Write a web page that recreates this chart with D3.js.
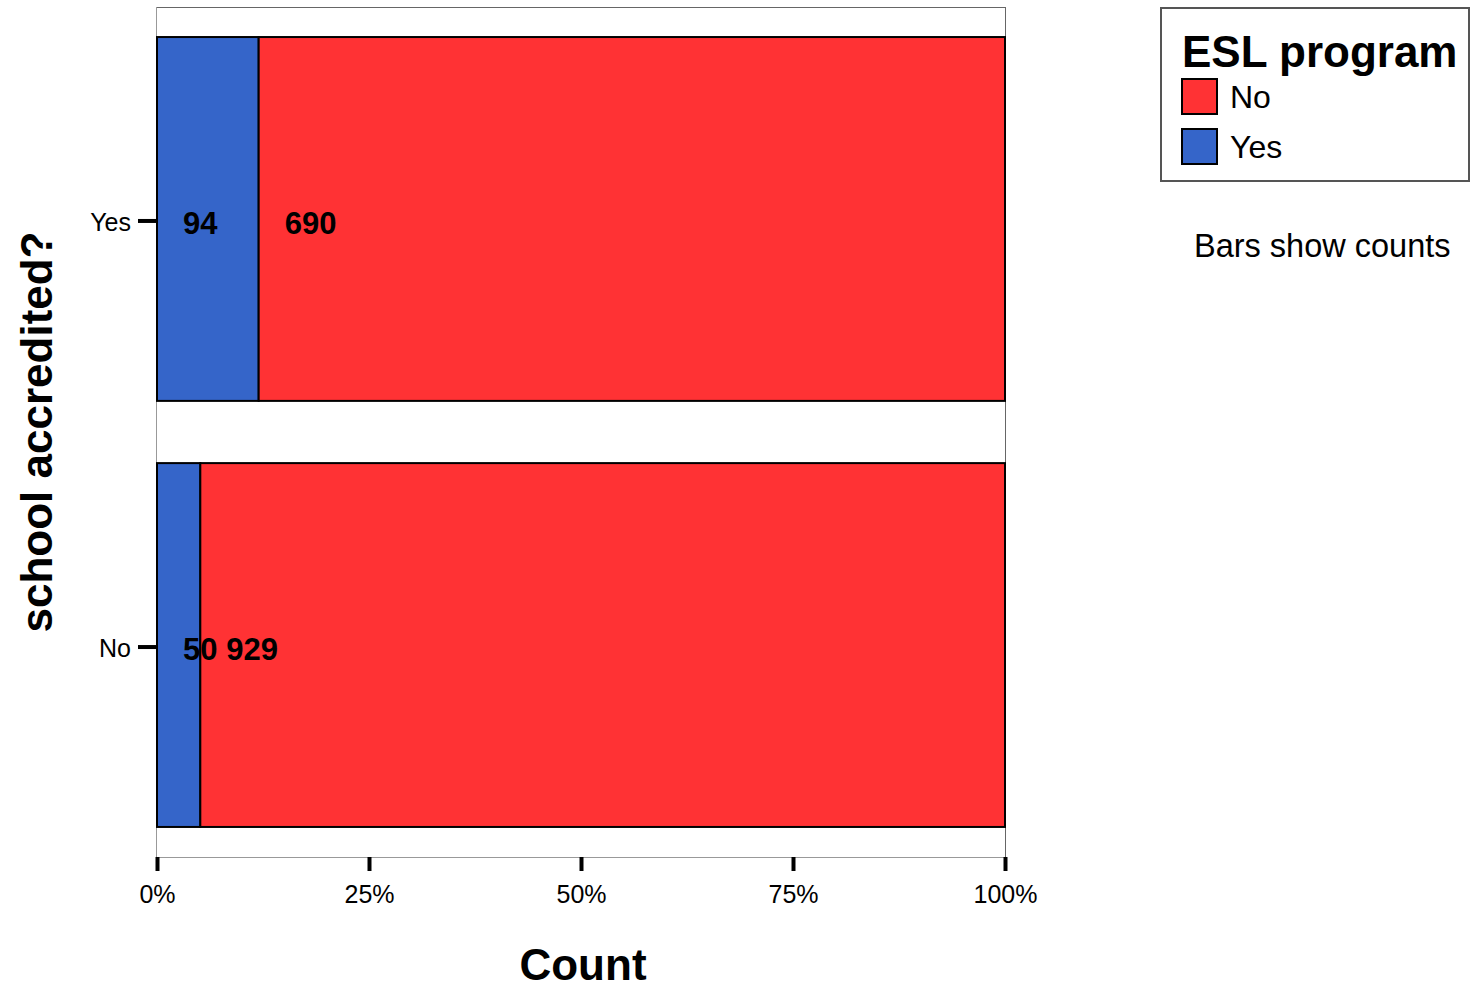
<!DOCTYPE html>
<html><head><meta charset="utf-8">
<script src="https://cdn.jsdelivr.net/npm/d3@7"></script>
<style>body{margin:0;background:#fff;} text{font-family:"Liberation Sans",Arial,sans-serif;}</style>
</head><body>
<script>
const categories = ["Yes", "No"];           // school accredited?
const seriesNames = ["Yes", "No"];          // ESL program (stack order left->right)
const eslYes = [94, 50];
const eslNo = [690, 929];
const xTicks = [0, 0.25, 0.5, 0.75, 1];
const colors = {"Yes": "#3565c9", "No": "#ff3234"};

(function(){
const W = 1471, H = 989;
const svg = d3.select("body").append("svg").attr("width", W).attr("height", H);

const pL = 157, pR = 1005, pT = 7, pB = 857;
const x = d3.scaleLinear().domain([0, 1]).range([pL, pR]);
const y = d3.scaleBand().domain(categories).range([pT, pB]).paddingInner(0.146).paddingOuter(0.0705);

const rows = categories.map((c, i) => ({cat: c, Yes: eslYes[i], No: eslNo[i], total: eslYes[i] + eslNo[i]}));

// frame
svg.append("line").attr("x1", pL).attr("x2", pR).attr("y1", pT + 0.5).attr("y2", pT + 0.5).attr("stroke", "#666").attr("stroke-width", 1);
svg.append("line").attr("x1", pR + 0.5).attr("x2", pR + 0.5).attr("y1", pT).attr("y2", pB).attr("stroke", "#666").attr("stroke-width", 1);
svg.append("line").attr("x1", pL).attr("x2", pR).attr("y1", pB + 0.5).attr("y2", pB + 0.5).attr("stroke", "#999").attr("stroke-width", 1);
svg.append("line").attr("x1", pL - 0.5).attr("x2", pL - 0.5).attr("y1", pT).attr("y2", pB).attr("stroke", "#999").attr("stroke-width", 1);

// bars
rows.forEach(r => {
  let cum = 0;
  seriesNames.forEach(s => {
    const v = r[s] / r.total;
    const x0 = x(cum), x1 = x(cum + v);
    svg.append("rect").attr("x", x0).attr("y", y(r.cat)).attr("width", x1 - x0).attr("height", y.bandwidth())
      .attr("fill", colors[s]).attr("stroke", "#000").attr("stroke-width", 2);
    cum += v;
  });
});
// labels
rows.forEach(r => {
  let cum = 0;
  seriesNames.forEach(s => {
    const v = r[s] / r.total;
    svg.append("text").attr("x", x(cum) + 26).attr("y", y(r.cat) + y.bandwidth() / 2 + 15)
      .attr("font-size", 31).attr("font-weight", "bold").attr("fill", "#000").text(r[s]);
    cum += v;
  });
});

// x axis
const xAxis = d3.axisBottom(x).tickValues(xTicks).tickFormat(d3.format(".0%")).tickSize(14).tickPadding(14);
const gx = svg.append("g").attr("transform", `translate(0,${pB})`).call(xAxis);
gx.select(".domain").remove();
gx.selectAll(".tick line").attr("stroke", "#000").attr("stroke-width", 4);
gx.selectAll(".tick text").attr("font-size", 25).attr("fill", "#000").attr("font-family", "Liberation Sans, Arial, sans-serif");

// y axis
const yAxis = d3.axisLeft(y).tickSize(18).tickPadding(7);
const gy = svg.append("g").attr("transform", `translate(${pL - 1},2)`).call(yAxis);
gy.select(".domain").remove();
gy.selectAll(".tick line").attr("stroke", "#000").attr("stroke-width", 4);
gy.selectAll(".tick text").attr("font-size", 25).attr("dy", "0.4em").attr("fill", "#000").attr("font-family", "Liberation Sans, Arial, sans-serif");

// axis titles
svg.append("text").attr("x", (pL + pR) / 2 + 2).attr("y", 980).attr("text-anchor", "middle")
  .attr("font-size", 44).attr("font-weight", "bold").text("Count");
svg.append("text").attr("transform", `translate(52,${(pT + pB) / 2}) rotate(-90)`).attr("text-anchor", "middle")
  .attr("font-size", 44).attr("font-weight", "bold").text("school accredited?");

// legend
svg.append("rect").attr("x", 1161).attr("y", 8).attr("width", 308).attr("height", 173)
  .attr("fill", "#fff").attr("stroke", "#555").attr("stroke-width", 2);
svg.append("text").attr("x", 1182).attr("y", 67).attr("font-size", 44).attr("font-weight", "bold").text("ESL program");
const legendOrder = ["No", "Yes"];
legendOrder.forEach((s, i) => {
  svg.append("rect").attr("x", 1182).attr("y", 79 + i * 50).attr("width", 35).attr("height", 35)
    .attr("fill", colors[s]).attr("stroke", "#000").attr("stroke-width", 2);
  svg.append("text").attr("x", 1230).attr("y", 108 + i * 50).attr("font-size", 32).text(s);
});
svg.append("text").attr("x", 1194).attr("y", 257).attr("font-size", 32.5).text("Bars show counts");
})();
</script>
</body></html>
